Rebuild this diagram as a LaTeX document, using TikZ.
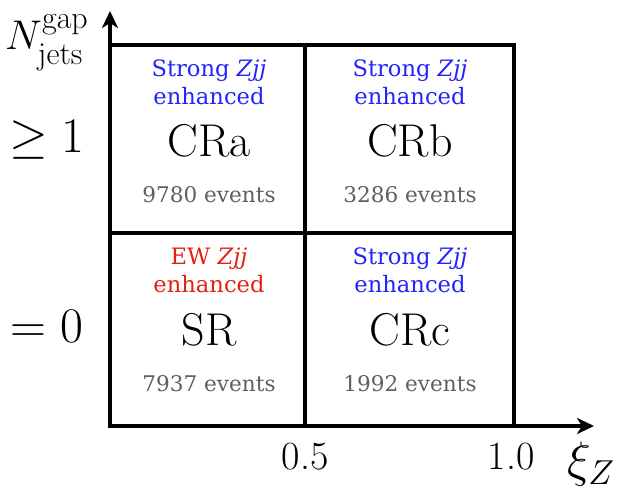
\documentclass[tikz,border=0pt]{standalone}
\usepackage{fontspec}
\newfontfamily\cellfont{DejaVu Serif}
\usetikzlibrary{positioning,arrows.meta}

\definecolor{strongblue}{RGB}{35,35,250}
\definecolor{ewred}{RGB}{228,32,18}
\definecolor{evgray}{RGB}{95,95,95}

\newcommand\idxfont{\fontsize{16}{16}\selectfont}

\tikzset{
  proc/.style={anchor=base,font=\cellfont\fontsize{11.3}{13}\selectfont},
  region/.style={anchor=base,font=\fontsize{23}{26}\selectfont},
  nevents/.style={anchor=base,text=evgray,font=\cellfont\fontsize{10.8}{13}\selectfont},
  axislabel/.style={anchor=base,font=\fontsize{23}{26}\selectfont},
  ticklabel/.style={anchor=base,font=\fontsize{20}{22}\selectfont},
  gridline/.style={line width=1.6pt},
}

\begin{document}
\begin{tikzpicture}[x=0.5pt,y=-0.5pt,every node/.style={inner sep=0,outer sep=0}]
\useasboundingbox (0,0) rectangle (617,497);
% axes
\coordinate (origin) at (110,426);
\coordinate (ytip) at (110,11);
\coordinate (xtip) at (594,426);
\draw [gridline,-{Stealth[length=8.5pt,width=8pt,inset=2.5pt]}] (origin) -- (ytip);
\draw [gridline,-{Stealth[length=8.5pt,width=8pt,inset=2.5pt]}] (origin) -- (xtip);
% regions
\draw [gridline] (110,45) rectangle (514,426);
\draw [gridline] (305,45) -- (305,426);
\draw [gridline] (110,233) -- (514,233);
% top left
\node (CRatag) at (209,77) [proc,text=strongblue] {Strong \textit{Zjj}};
\node (CRaenh) at (209,105) [proc,text=strongblue] {enhanced};
\node (CRa) at (209,157) [region] {CRa};
\node (CRaev) at (209,203) [nevents] {9780 events};
% top right
\node (CRbtag) at (410,77) [proc,text=strongblue] {Strong \textit{Zjj}};
\node (CRbenh) at (410,105) [proc,text=strongblue] {enhanced};
\node (CRb) at (410,157) [region] {CRb};
\node (CRbev) at (410,203) [nevents] {3286 events};
% bottom left
\node (SRtag) at (209,265) [proc,text=ewred] {EW \textit{Zjj}};
\node (SRenh) at (209,293) [proc,text=ewred] {enhanced};
\node (SR) at (209,346) [region] {SR};
\node (SRev) at (209,392) [nevents] {7937 events};
% bottom right
\node (CRctag) at (410,265) [proc,text=strongblue] {Strong \textit{Zjj}};
\node (CRcenh) at (410,293) [proc,text=strongblue] {enhanced};
\node (CRc) at (410,346) [region] {CRc};
\node (CRcev) at (410,392) [nevents] {1992 events};
% axis labels
\node (ngap) at (47,50) [axislabel,font=\fontsize{21}{24}\selectfont] {$N^{\raisebox{3pt}{\idxfont gap}}_{\raisebox{-2pt}{\idxfont jets}}$};
\node (geone) at (47,153) [axislabel] {$\geq 1$};
\node (eqzero) at (47,343) [axislabel] {$= 0$};
\node (half) at (305,470) [ticklabel] {0.5};
\node (one) at (511,470) [ticklabel] {1.0};
\node (xiz) at (591,477) [axislabel] {$\xi_{Z}$};
\end{tikzpicture}
\end{document}
